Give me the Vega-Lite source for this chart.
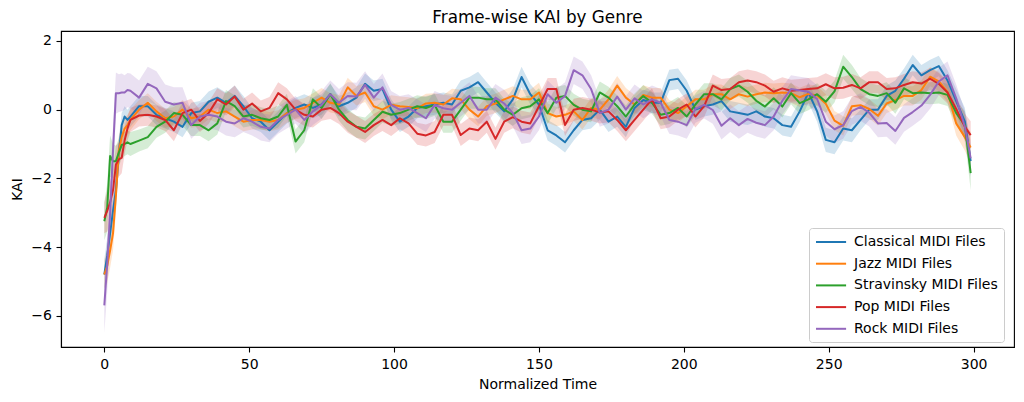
{
  "$schema": "https://vega.github.io/schema/vega-lite/v6.json",
  "width": 953,
  "height": 316,
  "autosize": {"type": "none"},
  "padding": {"left": 61, "top": 31, "right": 10, "bottom": 55},
  "background": "white",
  "config": {
    "font": "DejaVu Sans",
    "view": {"stroke": "#000", "strokeWidth": 1.1},
    "axis": {"domainColor": "#000", "domainWidth": 1.1, "tickColor": "#000", "tickWidth": 1.1, "tickSize": 5, "labelFontSize": 14, "labelColor": "#000", "titleFontSize": 14, "titleFontWeight": "normal", "titleColor": "#000", "grid": false}
  },
  "title": {"text": "Frame-wise KAI by Genre", "fontSize": 16.8, "fontWeight": "normal", "color": "#000", "anchor": "middle", "offset": 4},
  "data": {"values": [
    {"g":"a","t":0,"v":-4.8,"e":0.45},{"g":"a","t":1,"v":-4.25,"e":0.5},{"g":"a","t":2,"v":-3.6,"e":0.5},{"g":"a","t":3,"v":-2.95,"e":0.5},{"g":"a","t":4,"v":-2.35,"e":0.5},{"g":"a","t":5,"v":-1.3,"e":0.45},{"g":"a","t":6,"v":-0.45,"e":0.35},{"g":"a","t":7,"v":-0.2,"e":0.3},{"g":"a","t":8,"v":-0.3,"e":0.3},{"g":"a","t":9,"v":-0.2,"e":0.3},
    {"g":"a","t":12,"v":0.1,"e":0.3},{"g":"a","t":15,"v":0.1,"e":0.3},{"g":"a","t":18,"v":-0.15,"e":0.3},{"g":"a","t":21,"v":-0.25,"e":0.3},{"g":"a","t":24,"v":-0.35,"e":0.3},{"g":"a","t":27,"v":-0.5,"e":0.3},{"g":"a","t":30,"v":-0.1,"e":0.3},{"g":"a","t":33,"v":-0.05,"e":0.3},{"g":"a","t":36,"v":0.23,"e":0.3},{"g":"a","t":39,"v":0.35,"e":0.3},
    {"g":"a","t":42,"v":0.2,"e":0.3},{"g":"a","t":45,"v":0.4,"e":0.3},{"g":"a","t":48,"v":0.1,"e":0.3},{"g":"a","t":51,"v":-0.25,"e":0.3},{"g":"a","t":54,"v":-0.35,"e":0.3},{"g":"a","t":57,"v":-0.6,"e":0.3},{"g":"a","t":60,"v":-0.35,"e":0.3},{"g":"a","t":63,"v":-0.1,"e":0.3},{"g":"a","t":66,"v":0.05,"e":0.3},{"g":"a","t":69,"v":0.15,"e":0.3},
    {"g":"a","t":72,"v":0.05,"e":0.3},{"g":"a","t":75,"v":0.15,"e":0.3},{"g":"a","t":78,"v":0.45,"e":0.3},{"g":"a","t":81,"v":0.1,"e":0.3},{"g":"a","t":84,"v":0.2,"e":0.3},{"g":"a","t":87,"v":0.35,"e":0.3},{"g":"a","t":90,"v":0.75,"e":0.3},{"g":"a","t":93,"v":0.55,"e":0.3},{"g":"a","t":96,"v":0.6,"e":0.3},{"g":"a","t":99,"v":0,"e":0.3},
    {"g":"a","t":102,"v":-0.35,"e":0.3},{"g":"a","t":105,"v":-0.2,"e":0.3},{"g":"a","t":108,"v":0.05,"e":0.3},{"g":"a","t":111,"v":0.1,"e":0.3},{"g":"a","t":114,"v":0.15,"e":0.3},{"g":"a","t":117,"v":0.2,"e":0.3},{"g":"a","t":120,"v":0.15,"e":0.3},{"g":"a","t":123,"v":0.55,"e":0.3},{"g":"a","t":126,"v":0.65,"e":0.3},{"g":"a","t":129,"v":0.8,"e":0.3},
    {"g":"a","t":132,"v":0.5,"e":0.3},{"g":"a","t":135,"v":0.2,"e":0.3},{"g":"a","t":138,"v":-0.05,"e":0.3},{"g":"a","t":141,"v":0.3,"e":0.3},{"g":"a","t":144,"v":0.95,"e":0.3},{"g":"a","t":147,"v":0.45,"e":0.3},{"g":"a","t":150,"v":0.15,"e":0.3},{"g":"a","t":153,"v":-0.6,"e":0.3},{"g":"a","t":156,"v":-0.75,"e":0.3},{"g":"a","t":159,"v":-0.95,"e":0.3},
    {"g":"a","t":162,"v":-0.6,"e":0.3},{"g":"a","t":165,"v":-0.3,"e":0.3},{"g":"a","t":168,"v":-0.25,"e":0.3},{"g":"a","t":171,"v":0,"e":0.3},{"g":"a","t":174,"v":-0.35,"e":0.3},{"g":"a","t":177,"v":-0.2,"e":0.3},{"g":"a","t":180,"v":-0.5,"e":0.3},{"g":"a","t":183,"v":0.05,"e":0.3},{"g":"a","t":186,"v":0.28,"e":0.3},{"g":"a","t":189,"v":0.2,"e":0.3},
    {"g":"a","t":192,"v":0.2,"e":0.3},{"g":"a","t":195,"v":0.86,"e":0.3},{"g":"a","t":198,"v":0.9,"e":0.3},{"g":"a","t":201,"v":0.55,"e":0.3},{"g":"a","t":204,"v":0,"e":0.3},{"g":"a","t":207,"v":0.1,"e":0.3},{"g":"a","t":210,"v":0.15,"e":0.3},{"g":"a","t":213,"v":0.25,"e":0.3},{"g":"a","t":216,"v":-0.05,"e":0.3},{"g":"a","t":219,"v":-0.1,"e":0.3},
    {"g":"a","t":222,"v":-0.15,"e":0.3},{"g":"a","t":225,"v":-0.05,"e":0.3},{"g":"a","t":228,"v":-0.2,"e":0.3},{"g":"a","t":231,"v":-0.25,"e":0.3},{"g":"a","t":234,"v":-0.45,"e":0.3},{"g":"a","t":237,"v":-0.5,"e":0.3},{"g":"a","t":240,"v":-0.05,"e":0.3},{"g":"a","t":243,"v":0.5,"e":0.3},{"g":"a","t":246,"v":-0.05,"e":0.3},{"g":"a","t":249,"v":-0.88,"e":0.35},
    {"g":"a","t":252,"v":-0.95,"e":0.35},{"g":"a","t":255,"v":-0.55,"e":0.35},{"g":"a","t":258,"v":-0.6,"e":0.35},{"g":"a","t":261,"v":-0.3,"e":0.3},{"g":"a","t":264,"v":0,"e":0.3},{"g":"a","t":267,"v":0,"e":0.3},{"g":"a","t":270,"v":0.4,"e":0.3},{"g":"a","t":273,"v":0.55,"e":0.3},{"g":"a","t":276,"v":0.9,"e":0.3},{"g":"a","t":279,"v":1.3,"e":0.3},
    {"g":"a","t":282,"v":1,"e":0.3},{"g":"a","t":285,"v":1.15,"e":0.3},{"g":"a","t":288,"v":1.27,"e":0.3},{"g":"a","t":291,"v":0.85,"e":0.3},{"g":"a","t":294,"v":0.25,"e":0.35},{"g":"a","t":297,"v":-0.35,"e":0.4},{"g":"a","t":299,"v":-1.5,"e":0.45},

    {"g":"b","t":0,"v":-4.8,"e":0.4},{"g":"b","t":1,"v":-4.55,"e":0.5},{"g":"b","t":2,"v":-4.1,"e":0.5},{"g":"b","t":3,"v":-3.6,"e":0.5},{"g":"b","t":4,"v":-2.5,"e":0.5},{"g":"b","t":5,"v":-1.2,"e":0.45},{"g":"b","t":6,"v":-0.8,"e":0.35},{"g":"b","t":7,"v":-0.55,"e":0.3},{"g":"b","t":8,"v":-0.45,"e":0.3},{"g":"b","t":9,"v":-0.3,"e":0.3},
    {"g":"b","t":12,"v":0,"e":0.28},{"g":"b","t":15,"v":0.2,"e":0.28},{"g":"b","t":18,"v":-0.05,"e":0.28},{"g":"b","t":21,"v":-0.25,"e":0.28},{"g":"b","t":24,"v":-0.2,"e":0.28},{"g":"b","t":27,"v":0,"e":0.28},{"g":"b","t":30,"v":-0.25,"e":0.28},{"g":"b","t":33,"v":-0.2,"e":0.28},{"g":"b","t":36,"v":0,"e":0.28},{"g":"b","t":39,"v":-0.1,"e":0.28},
    {"g":"b","t":42,"v":-0.05,"e":0.28},{"g":"b","t":45,"v":-0.2,"e":0.28},{"g":"b","t":48,"v":-0.35,"e":0.28},{"g":"b","t":51,"v":-0.3,"e":0.28},{"g":"b","t":54,"v":-0.3,"e":0.28},{"g":"b","t":57,"v":-0.35,"e":0.28},{"g":"b","t":60,"v":-0.3,"e":0.28},{"g":"b","t":63,"v":-0.1,"e":0.28},{"g":"b","t":66,"v":0,"e":0.28},{"g":"b","t":69,"v":0.05,"e":0.28},
    {"g":"b","t":72,"v":0.2,"e":0.28},{"g":"b","t":75,"v":0.35,"e":0.28},{"g":"b","t":78,"v":0.2,"e":0.28},{"g":"b","t":81,"v":0.15,"e":0.28},{"g":"b","t":84,"v":0.65,"e":0.28},{"g":"b","t":87,"v":0.4,"e":0.28},{"g":"b","t":90,"v":0.5,"e":0.28},{"g":"b","t":93,"v":0.1,"e":0.28},{"g":"b","t":96,"v":0,"e":0.28},{"g":"b","t":99,"v":0.14,"e":0.28},
    {"g":"b","t":102,"v":0.1,"e":0.28},{"g":"b","t":105,"v":0.08,"e":0.28},{"g":"b","t":108,"v":0.04,"e":0.28},{"g":"b","t":111,"v":0.18,"e":0.28},{"g":"b","t":114,"v":0.2,"e":0.28},{"g":"b","t":117,"v":0.15,"e":0.28},{"g":"b","t":120,"v":0.33,"e":0.28},{"g":"b","t":123,"v":0.3,"e":0.28},{"g":"b","t":126,"v":0,"e":0.28},{"g":"b","t":129,"v":-0.2,"e":0.28},
    {"g":"b","t":132,"v":0.1,"e":0.28},{"g":"b","t":135,"v":0.18,"e":0.28},{"g":"b","t":138,"v":0.3,"e":0.28},{"g":"b","t":141,"v":0.4,"e":0.28},{"g":"b","t":144,"v":0.3,"e":0.28},{"g":"b","t":147,"v":0.3,"e":0.28},{"g":"b","t":150,"v":0.5,"e":0.28},{"g":"b","t":153,"v":-0.1,"e":0.28},{"g":"b","t":156,"v":-0.2,"e":0.28},{"g":"b","t":159,"v":-0.15,"e":0.28},
    {"g":"b","t":162,"v":-0.05,"e":0.28},{"g":"b","t":165,"v":-0.3,"e":0.28},{"g":"b","t":168,"v":0.05,"e":0.28},{"g":"b","t":171,"v":0,"e":0.28},{"g":"b","t":174,"v":0.3,"e":0.28},{"g":"b","t":177,"v":0.7,"e":0.28},{"g":"b","t":180,"v":0.35,"e":0.28},{"g":"b","t":183,"v":0.15,"e":0.28},{"g":"b","t":186,"v":0.43,"e":0.28},{"g":"b","t":189,"v":0.35,"e":0.28},
    {"g":"b","t":192,"v":0.35,"e":0.28},{"g":"b","t":195,"v":0,"e":0.28},{"g":"b","t":198,"v":-0.1,"e":0.28},{"g":"b","t":201,"v":0.1,"e":0.28},{"g":"b","t":204,"v":0.3,"e":0.28},{"g":"b","t":207,"v":0.3,"e":0.28},{"g":"b","t":210,"v":0.45,"e":0.28},{"g":"b","t":213,"v":0.45,"e":0.28},{"g":"b","t":216,"v":0.3,"e":0.28},{"g":"b","t":219,"v":0.45,"e":0.28},
    {"g":"b","t":222,"v":0.38,"e":0.28},{"g":"b","t":225,"v":0.45,"e":0.28},{"g":"b","t":228,"v":0.5,"e":0.28},{"g":"b","t":231,"v":0.48,"e":0.28},{"g":"b","t":234,"v":0.5,"e":0.28},{"g":"b","t":237,"v":0.48,"e":0.28},{"g":"b","t":240,"v":0.36,"e":0.28},{"g":"b","t":243,"v":0.46,"e":0.28},{"g":"b","t":246,"v":0.41,"e":0.28},{"g":"b","t":249,"v":0.17,"e":0.28},
    {"g":"b","t":252,"v":-0.32,"e":0.28},{"g":"b","t":255,"v":-0.47,"e":0.28},{"g":"b","t":258,"v":0.1,"e":0.28},{"g":"b","t":261,"v":0.13,"e":0.28},{"g":"b","t":264,"v":0.02,"e":0.28},{"g":"b","t":267,"v":-0.18,"e":0.28},{"g":"b","t":270,"v":0.18,"e":0.28},{"g":"b","t":273,"v":0.28,"e":0.28},{"g":"b","t":276,"v":0.4,"e":0.28},{"g":"b","t":279,"v":0.4,"e":0.28},
    {"g":"b","t":282,"v":0.57,"e":0.28},{"g":"b","t":285,"v":0.96,"e":0.28},{"g":"b","t":288,"v":0.82,"e":0.28},{"g":"b","t":291,"v":0.52,"e":0.3},{"g":"b","t":294,"v":-0.4,"e":0.35},{"g":"b","t":297,"v":-0.8,"e":0.4},{"g":"b","t":299,"v":-1.1,"e":0.45},

    {"g":"c","t":0,"v":-3.25,"e":0.55},{"g":"c","t":1,"v":-2.85,"e":0.7},{"g":"c","t":2,"v":-1.35,"e":0.6},{"g":"c","t":3,"v":-1.5,"e":0.5},{"g":"c","t":4,"v":-1.5,"e":0.45},{"g":"c","t":5,"v":-1.25,"e":0.4},{"g":"c","t":6,"v":-1.03,"e":0.4},{"g":"c","t":7,"v":-1,"e":0.35},{"g":"c","t":8,"v":-0.95,"e":0.35},{"g":"c","t":9,"v":-1,"e":0.35},
    {"g":"c","t":12,"v":-0.9,"e":0.32},{"g":"c","t":15,"v":-0.8,"e":0.32},{"g":"c","t":18,"v":-0.5,"e":0.32},{"g":"c","t":21,"v":-0.35,"e":0.32},{"g":"c","t":24,"v":-0.1,"e":0.32},{"g":"c","t":27,"v":-0.15,"e":0.32},{"g":"c","t":30,"v":-0.45,"e":0.32},{"g":"c","t":33,"v":-0.45,"e":0.32},{"g":"c","t":36,"v":-0.6,"e":0.32},{"g":"c","t":39,"v":-0.4,"e":0.32},
    {"g":"c","t":42,"v":0.25,"e":0.32},{"g":"c","t":45,"v":0.1,"e":0.32},{"g":"c","t":48,"v":-0.2,"e":0.32},{"g":"c","t":51,"v":-0.15,"e":0.32},{"g":"c","t":54,"v":-0.25,"e":0.32},{"g":"c","t":57,"v":-0.3,"e":0.32},{"g":"c","t":60,"v":-0.2,"e":0.32},{"g":"c","t":63,"v":0.14,"e":0.32},{"g":"c","t":66,"v":-0.93,"e":0.35},{"g":"c","t":69,"v":-0.6,"e":0.35},
    {"g":"c","t":72,"v":0.3,"e":0.32},{"g":"c","t":75,"v":0.05,"e":0.32},{"g":"c","t":78,"v":0.45,"e":0.32},{"g":"c","t":81,"v":0,"e":0.32},{"g":"c","t":84,"v":-0.3,"e":0.32},{"g":"c","t":87,"v":-0.5,"e":0.32},{"g":"c","t":90,"v":-0.55,"e":0.32},{"g":"c","t":93,"v":-0.3,"e":0.32},{"g":"c","t":96,"v":-0.06,"e":0.32},{"g":"c","t":99,"v":-0.15,"e":0.32},
    {"g":"c","t":102,"v":-0.1,"e":0.32},{"g":"c","t":105,"v":0,"e":0.32},{"g":"c","t":108,"v":0.1,"e":0.32},{"g":"c","t":111,"v":0.05,"e":0.32},{"g":"c","t":114,"v":0.14,"e":0.32},{"g":"c","t":117,"v":-0.35,"e":0.32},{"g":"c","t":120,"v":-0.35,"e":0.32},{"g":"c","t":123,"v":0,"e":0.32},{"g":"c","t":126,"v":0.35,"e":0.32},{"g":"c","t":129,"v":0.35,"e":0.32},
    {"g":"c","t":132,"v":0.3,"e":0.32},{"g":"c","t":135,"v":0.3,"e":0.32},{"g":"c","t":138,"v":0,"e":0.32},{"g":"c","t":141,"v":-0.15,"e":0.32},{"g":"c","t":144,"v":0.04,"e":0.32},{"g":"c","t":147,"v":0.1,"e":0.32},{"g":"c","t":150,"v":0.3,"e":0.32},{"g":"c","t":153,"v":-0.1,"e":0.32},{"g":"c","t":156,"v":0.35,"e":0.32},{"g":"c","t":159,"v":0.4,"e":0.32},
    {"g":"c","t":162,"v":0.14,"e":0.32},{"g":"c","t":165,"v":0,"e":0.32},{"g":"c","t":168,"v":-0.05,"e":0.32},{"g":"c","t":171,"v":0.5,"e":0.32},{"g":"c","t":174,"v":0.35,"e":0.32},{"g":"c","t":177,"v":0.1,"e":0.32},{"g":"c","t":180,"v":-0.2,"e":0.32},{"g":"c","t":183,"v":0.15,"e":0.32},{"g":"c","t":186,"v":0.4,"e":0.32},{"g":"c","t":189,"v":0.2,"e":0.32},
    {"g":"c","t":192,"v":-0.15,"e":0.32},{"g":"c","t":195,"v":-0.1,"e":0.32},{"g":"c","t":198,"v":0.05,"e":0.32},{"g":"c","t":201,"v":-0.2,"e":0.32},{"g":"c","t":204,"v":0.15,"e":0.32},{"g":"c","t":207,"v":0.45,"e":0.32},{"g":"c","t":210,"v":0.45,"e":0.32},{"g":"c","t":213,"v":0.3,"e":0.32},{"g":"c","t":216,"v":0.6,"e":0.32},{"g":"c","t":219,"v":0.7,"e":0.32},
    {"g":"c","t":222,"v":0.52,"e":0.32},{"g":"c","t":225,"v":0.26,"e":0.32},{"g":"c","t":228,"v":0.09,"e":0.32},{"g":"c","t":231,"v":0.33,"e":0.32},{"g":"c","t":234,"v":0.09,"e":0.32},{"g":"c","t":237,"v":0.48,"e":0.32},{"g":"c","t":240,"v":0.19,"e":0.32},{"g":"c","t":243,"v":0.3,"e":0.32},{"g":"c","t":246,"v":0.45,"e":0.32},{"g":"c","t":249,"v":0.23,"e":0.32},
    {"g":"c","t":252,"v":0.53,"e":0.32},{"g":"c","t":255,"v":1.25,"e":0.35},{"g":"c","t":258,"v":0.95,"e":0.35},{"g":"c","t":261,"v":0.6,"e":0.32},{"g":"c","t":264,"v":0.45,"e":0.32},{"g":"c","t":267,"v":0.4,"e":0.32},{"g":"c","t":270,"v":0.48,"e":0.32},{"g":"c","t":273,"v":0.2,"e":0.32},{"g":"c","t":276,"v":0.62,"e":0.32},{"g":"c","t":279,"v":0.48,"e":0.32},
    {"g":"c","t":282,"v":0.5,"e":0.32},{"g":"c","t":285,"v":0.48,"e":0.32},{"g":"c","t":288,"v":0.5,"e":0.32},{"g":"c","t":291,"v":0.43,"e":0.32},{"g":"c","t":294,"v":-0.1,"e":0.35},{"g":"c","t":297,"v":-0.45,"e":0.4},{"g":"c","t":299,"v":-1.85,"e":0.5},

    {"g":"d","t":0,"v":-3.15,"e":0.45},{"g":"d","t":1,"v":-2.95,"e":0.6},{"g":"d","t":2,"v":-2.7,"e":0.6},{"g":"d","t":3,"v":-2.35,"e":0.6},{"g":"d","t":4,"v":-1.6,"e":0.55},{"g":"d","t":5,"v":-1.45,"e":0.5},{"g":"d","t":6,"v":-1.4,"e":0.45},{"g":"d","t":7,"v":-0.9,"e":0.4},{"g":"d","t":8,"v":-0.55,"e":0.35},{"g":"d","t":9,"v":-0.3,"e":0.35},
    {"g":"d","t":12,"v":-0.17,"e":0.32},{"g":"d","t":15,"v":-0.15,"e":0.32},{"g":"d","t":18,"v":-0.2,"e":0.32},{"g":"d","t":21,"v":-0.3,"e":0.32},{"g":"d","t":24,"v":-0.6,"e":0.32},{"g":"d","t":27,"v":-0.1,"e":0.32},{"g":"d","t":30,"v":0,"e":0.32},{"g":"d","t":33,"v":-0.33,"e":0.32},{"g":"d","t":36,"v":-0.1,"e":0.32},{"g":"d","t":39,"v":0.3,"e":0.32},
    {"g":"d","t":42,"v":0.15,"e":0.32},{"g":"d","t":45,"v":0.38,"e":0.32},{"g":"d","t":48,"v":0,"e":0.32},{"g":"d","t":51,"v":0.18,"e":0.32},{"g":"d","t":54,"v":-0.05,"e":0.32},{"g":"d","t":57,"v":0.05,"e":0.32},{"g":"d","t":60,"v":0.48,"e":0.32},{"g":"d","t":63,"v":0.3,"e":0.32},{"g":"d","t":66,"v":0,"e":0.32},{"g":"d","t":69,"v":-0.15,"e":0.32},
    {"g":"d","t":72,"v":-0.2,"e":0.32},{"g":"d","t":75,"v":0,"e":0.32},{"g":"d","t":78,"v":0.05,"e":0.32},{"g":"d","t":81,"v":-0.1,"e":0.32},{"g":"d","t":84,"v":-0.35,"e":0.32},{"g":"d","t":87,"v":-0.5,"e":0.32},{"g":"d","t":90,"v":-0.65,"e":0.32},{"g":"d","t":93,"v":-0.45,"e":0.32},{"g":"d","t":96,"v":-0.3,"e":0.32},{"g":"d","t":99,"v":-0.45,"e":0.32},
    {"g":"d","t":102,"v":-0.25,"e":0.32},{"g":"d","t":105,"v":-0.4,"e":0.32},{"g":"d","t":108,"v":-0.7,"e":0.32},{"g":"d","t":111,"v":-0.75,"e":0.32},{"g":"d","t":114,"v":-0.65,"e":0.32},{"g":"d","t":117,"v":-0.15,"e":0.32},{"g":"d","t":120,"v":-0.15,"e":0.32},{"g":"d","t":123,"v":-0.74,"e":0.32},{"g":"d","t":126,"v":-0.55,"e":0.32},{"g":"d","t":129,"v":-0.6,"e":0.32},
    {"g":"d","t":132,"v":-0.35,"e":0.32},{"g":"d","t":135,"v":-0.85,"e":0.32},{"g":"d","t":138,"v":-0.35,"e":0.32},{"g":"d","t":141,"v":-0.22,"e":0.32},{"g":"d","t":144,"v":-0.35,"e":0.32},{"g":"d","t":147,"v":-0.4,"e":0.32},{"g":"d","t":150,"v":0.1,"e":0.32},{"g":"d","t":153,"v":0.6,"e":0.32},{"g":"d","t":156,"v":0.6,"e":0.32},{"g":"d","t":159,"v":-0.45,"e":0.32},
    {"g":"d","t":162,"v":0,"e":0.32},{"g":"d","t":165,"v":0.05,"e":0.32},{"g":"d","t":168,"v":0,"e":0.32},{"g":"d","t":171,"v":-0.08,"e":0.32},{"g":"d","t":174,"v":-0.05,"e":0.32},{"g":"d","t":177,"v":-0.3,"e":0.32},{"g":"d","t":180,"v":-0.6,"e":0.32},{"g":"d","t":183,"v":-0.3,"e":0.32},{"g":"d","t":186,"v":0,"e":0.32},{"g":"d","t":189,"v":0.3,"e":0.32},
    {"g":"d","t":192,"v":-0.25,"e":0.32},{"g":"d","t":195,"v":-0.2,"e":0.32},{"g":"d","t":198,"v":0,"e":0.32},{"g":"d","t":201,"v":0.15,"e":0.32},{"g":"d","t":204,"v":-0.2,"e":0.32},{"g":"d","t":207,"v":0.1,"e":0.32},{"g":"d","t":210,"v":0.7,"e":0.32},{"g":"d","t":213,"v":0.57,"e":0.32},{"g":"d","t":216,"v":0.6,"e":0.32},{"g":"d","t":219,"v":0.8,"e":0.32},
    {"g":"d","t":222,"v":0.85,"e":0.32},{"g":"d","t":225,"v":0.8,"e":0.32},{"g":"d","t":228,"v":0.7,"e":0.32},{"g":"d","t":231,"v":0.52,"e":0.32},{"g":"d","t":234,"v":0.62,"e":0.32},{"g":"d","t":237,"v":0.55,"e":0.32},{"g":"d","t":240,"v":0.57,"e":0.32},{"g":"d","t":243,"v":0.6,"e":0.32},{"g":"d","t":246,"v":0.62,"e":0.32},{"g":"d","t":249,"v":0.74,"e":0.32},
    {"g":"d","t":252,"v":0.62,"e":0.32},{"g":"d","t":255,"v":0.64,"e":0.32},{"g":"d","t":258,"v":0.72,"e":0.32},{"g":"d","t":261,"v":0.62,"e":0.32},{"g":"d","t":264,"v":0.8,"e":0.32},{"g":"d","t":267,"v":0.8,"e":0.32},{"g":"d","t":270,"v":0.6,"e":0.32},{"g":"d","t":273,"v":0.62,"e":0.32},{"g":"d","t":276,"v":0.72,"e":0.32},{"g":"d","t":279,"v":0.8,"e":0.32},
    {"g":"d","t":282,"v":0.76,"e":0.32},{"g":"d","t":285,"v":0.9,"e":0.32},{"g":"d","t":288,"v":0.75,"e":0.32},{"g":"d","t":291,"v":0.5,"e":0.32},{"g":"d","t":294,"v":0.02,"e":0.35},{"g":"d","t":297,"v":-0.5,"e":0.38},{"g":"d","t":299,"v":-0.74,"e":0.4},

    {"g":"e","t":0,"v":-5.7,"e":0.8},{"g":"e","t":1,"v":-4.5,"e":0.8},{"g":"e","t":2,"v":-3,"e":0.75},{"g":"e","t":3,"v":-1.2,"e":0.7},{"g":"e","t":4,"v":0.48,"e":0.6},{"g":"e","t":5,"v":0.48,"e":0.55},{"g":"e","t":6,"v":0.5,"e":0.55},{"g":"e","t":7,"v":0.5,"e":0.5},{"g":"e","t":8,"v":0.57,"e":0.5},{"g":"e","t":9,"v":0.55,"e":0.5},
    {"g":"e","t":12,"v":0.35,"e":0.5},{"g":"e","t":15,"v":0.75,"e":0.5},{"g":"e","t":18,"v":0.62,"e":0.5},{"g":"e","t":21,"v":0.23,"e":0.5},{"g":"e","t":24,"v":0.15,"e":0.5},{"g":"e","t":27,"v":0.2,"e":0.45},{"g":"e","t":30,"v":-0.45,"e":0.4},{"g":"e","t":33,"v":-0.2,"e":0.4},{"g":"e","t":36,"v":-0.15,"e":0.4},{"g":"e","t":39,"v":-0.2,"e":0.4},
    {"g":"e","t":42,"v":-0.35,"e":0.4},{"g":"e","t":45,"v":-0.4,"e":0.4},{"g":"e","t":48,"v":-0.25,"e":0.4},{"g":"e","t":51,"v":-0.35,"e":0.4},{"g":"e","t":54,"v":-0.5,"e":0.4},{"g":"e","t":57,"v":-0.55,"e":0.4},{"g":"e","t":60,"v":-0.3,"e":0.4},{"g":"e","t":63,"v":-0.15,"e":0.4},{"g":"e","t":66,"v":0,"e":0.4},{"g":"e","t":69,"v":-0.3,"e":0.4},
    {"g":"e","t":72,"v":-0.05,"e":0.4},{"g":"e","t":75,"v":0.14,"e":0.4},{"g":"e","t":78,"v":0.45,"e":0.4},{"g":"e","t":81,"v":0.2,"e":0.4},{"g":"e","t":84,"v":0.4,"e":0.4},{"g":"e","t":87,"v":0.38,"e":0.4},{"g":"e","t":90,"v":0.72,"e":0.4},{"g":"e","t":93,"v":0.35,"e":0.4},{"g":"e","t":96,"v":0.65,"e":0.4},{"g":"e","t":99,"v":0.14,"e":0.4},
    {"g":"e","t":102,"v":0,"e":0.4},{"g":"e","t":105,"v":0.05,"e":0.4},{"g":"e","t":108,"v":-0.1,"e":0.4},{"g":"e","t":111,"v":-0.25,"e":0.4},{"g":"e","t":114,"v":0.14,"e":0.4},{"g":"e","t":117,"v":0.04,"e":0.4},{"g":"e","t":120,"v":0,"e":0.4},{"g":"e","t":123,"v":0.2,"e":0.4},{"g":"e","t":126,"v":0.4,"e":0.4},{"g":"e","t":129,"v":0,"e":0.4},
    {"g":"e","t":132,"v":0,"e":0.4},{"g":"e","t":135,"v":0.35,"e":0.4},{"g":"e","t":138,"v":0.18,"e":0.4},{"g":"e","t":141,"v":-0.1,"e":0.4},{"g":"e","t":144,"v":-0.6,"e":0.4},{"g":"e","t":147,"v":-0.55,"e":0.4},{"g":"e","t":150,"v":-0.2,"e":0.4},{"g":"e","t":153,"v":0.45,"e":0.4},{"g":"e","t":156,"v":0.2,"e":0.4},{"g":"e","t":159,"v":0.4,"e":0.4},
    {"g":"e","t":162,"v":1.15,"e":0.4},{"g":"e","t":165,"v":1,"e":0.4},{"g":"e","t":168,"v":0.6,"e":0.4},{"g":"e","t":171,"v":-0.1,"e":0.4},{"g":"e","t":174,"v":0,"e":0.4},{"g":"e","t":177,"v":0.38,"e":0.4},{"g":"e","t":180,"v":0,"e":0.4},{"g":"e","t":183,"v":0.33,"e":0.4},{"g":"e","t":186,"v":0.15,"e":0.4},{"g":"e","t":189,"v":0.3,"e":0.4},
    {"g":"e","t":192,"v":0.2,"e":0.4},{"g":"e","t":195,"v":-0.3,"e":0.4},{"g":"e","t":198,"v":-0.35,"e":0.4},{"g":"e","t":201,"v":-0.45,"e":0.4},{"g":"e","t":204,"v":0.02,"e":0.4},{"g":"e","t":207,"v":0.14,"e":0.4},{"g":"e","t":210,"v":-0.01,"e":0.4},{"g":"e","t":213,"v":-0.47,"e":0.4},{"g":"e","t":216,"v":-0.25,"e":0.4},{"g":"e","t":219,"v":-0.45,"e":0.4},
    {"g":"e","t":222,"v":-0.27,"e":0.4},{"g":"e","t":225,"v":-0.38,"e":0.4},{"g":"e","t":228,"v":-0.45,"e":0.4},{"g":"e","t":231,"v":-0.2,"e":0.4},{"g":"e","t":234,"v":0.26,"e":0.4},{"g":"e","t":237,"v":0.6,"e":0.4},{"g":"e","t":240,"v":0.56,"e":0.4},{"g":"e","t":243,"v":0.52,"e":0.4},{"g":"e","t":246,"v":0.31,"e":0.4},{"g":"e","t":249,"v":-0.35,"e":0.4},
    {"g":"e","t":252,"v":-0.57,"e":0.4},{"g":"e","t":255,"v":-0.45,"e":0.4},{"g":"e","t":258,"v":-0.04,"e":0.4},{"g":"e","t":261,"v":0.08,"e":0.4},{"g":"e","t":264,"v":-0.09,"e":0.4},{"g":"e","t":267,"v":-0.4,"e":0.4},{"g":"e","t":270,"v":-0.39,"e":0.4},{"g":"e","t":273,"v":-0.62,"e":0.4},{"g":"e","t":276,"v":-0.24,"e":0.4},{"g":"e","t":279,"v":-0.07,"e":0.4},
    {"g":"e","t":282,"v":0.12,"e":0.4},{"g":"e","t":285,"v":0.43,"e":0.4},{"g":"e","t":288,"v":0.82,"e":0.4},{"g":"e","t":291,"v":1,"e":0.4},{"g":"e","t":294,"v":0.33,"e":0.4},{"g":"e","t":297,"v":-0.5,"e":0.45},{"g":"e","t":299,"v":-1.42,"e":0.5}
  ]},
  "encoding": {
    "x": {"field": "t", "type": "quantitative", "scale": {"domain": [-14.95, 313.95], "nice": false, "zero": false}, "axis": {"values": [0, 50, 100, 150, 200, 250, 300], "title": "Normalized Time", "labelPadding": 5, "titlePadding": 6.5}},
    "y": {"field": "v", "type": "quantitative", "scale": {"domain": [-6.91, 2.29], "nice": false, "zero": false}, "axis": {"values": [-6, -4, -2, 0, 2], "title": "KAI", "labelPadding": 4.5, "titlePadding": 6}}
  },
  "layer": [
    {
      "mark": {"type": "errorband", "band": {"opacity": 0.2}},
      "encoding": {
        "yError": {"field": "e"},
        "color": {"field": "g", "type": "nominal", "legend": null, "scale": {"domain": ["a", "b", "c", "d", "e"], "range": ["#1f77b4", "#ff7f0e", "#2ca02c", "#d62728", "#9467bd"]}}
      }
    },
    {
      "mark": {"type": "line", "strokeWidth": 2, "strokeJoin": "round"},
      "encoding": {
        "color": {"field": "g", "type": "nominal", "scale": {"domain": ["a", "b", "c", "d", "e"], "range": ["#1f77b4", "#ff7f0e", "#2ca02c", "#d62728", "#9467bd"]},
          "legend": {"orient": "none", "legendX": 748, "legendY": 197, "title": null,
            "labelExpr": "datum.label == 'a' ? 'Classical MIDI Files' : datum.label == 'b' ? 'Jazz MIDI Files' : datum.label == 'c' ? 'Stravinsky MIDI Files' : datum.label == 'd' ? 'Pop MIDI Files' : 'Rock MIDI Files'",
            "labelFontSize": 14, "labelColor": "#000", "symbolType": "M-1,0H3.3", "symbolSize": 196, "symbolStrokeWidth": 2,
            "rowPadding": 6.7, "padding": 6, "labelOffset": 23, "fillColor": "rgba(255,255,255,0.8)", "strokeColor": "#cccccc", "cornerRadius": 3}}
      }
    }
  ],
  "resolve": {"legend": {"color": "independent"}}
}
